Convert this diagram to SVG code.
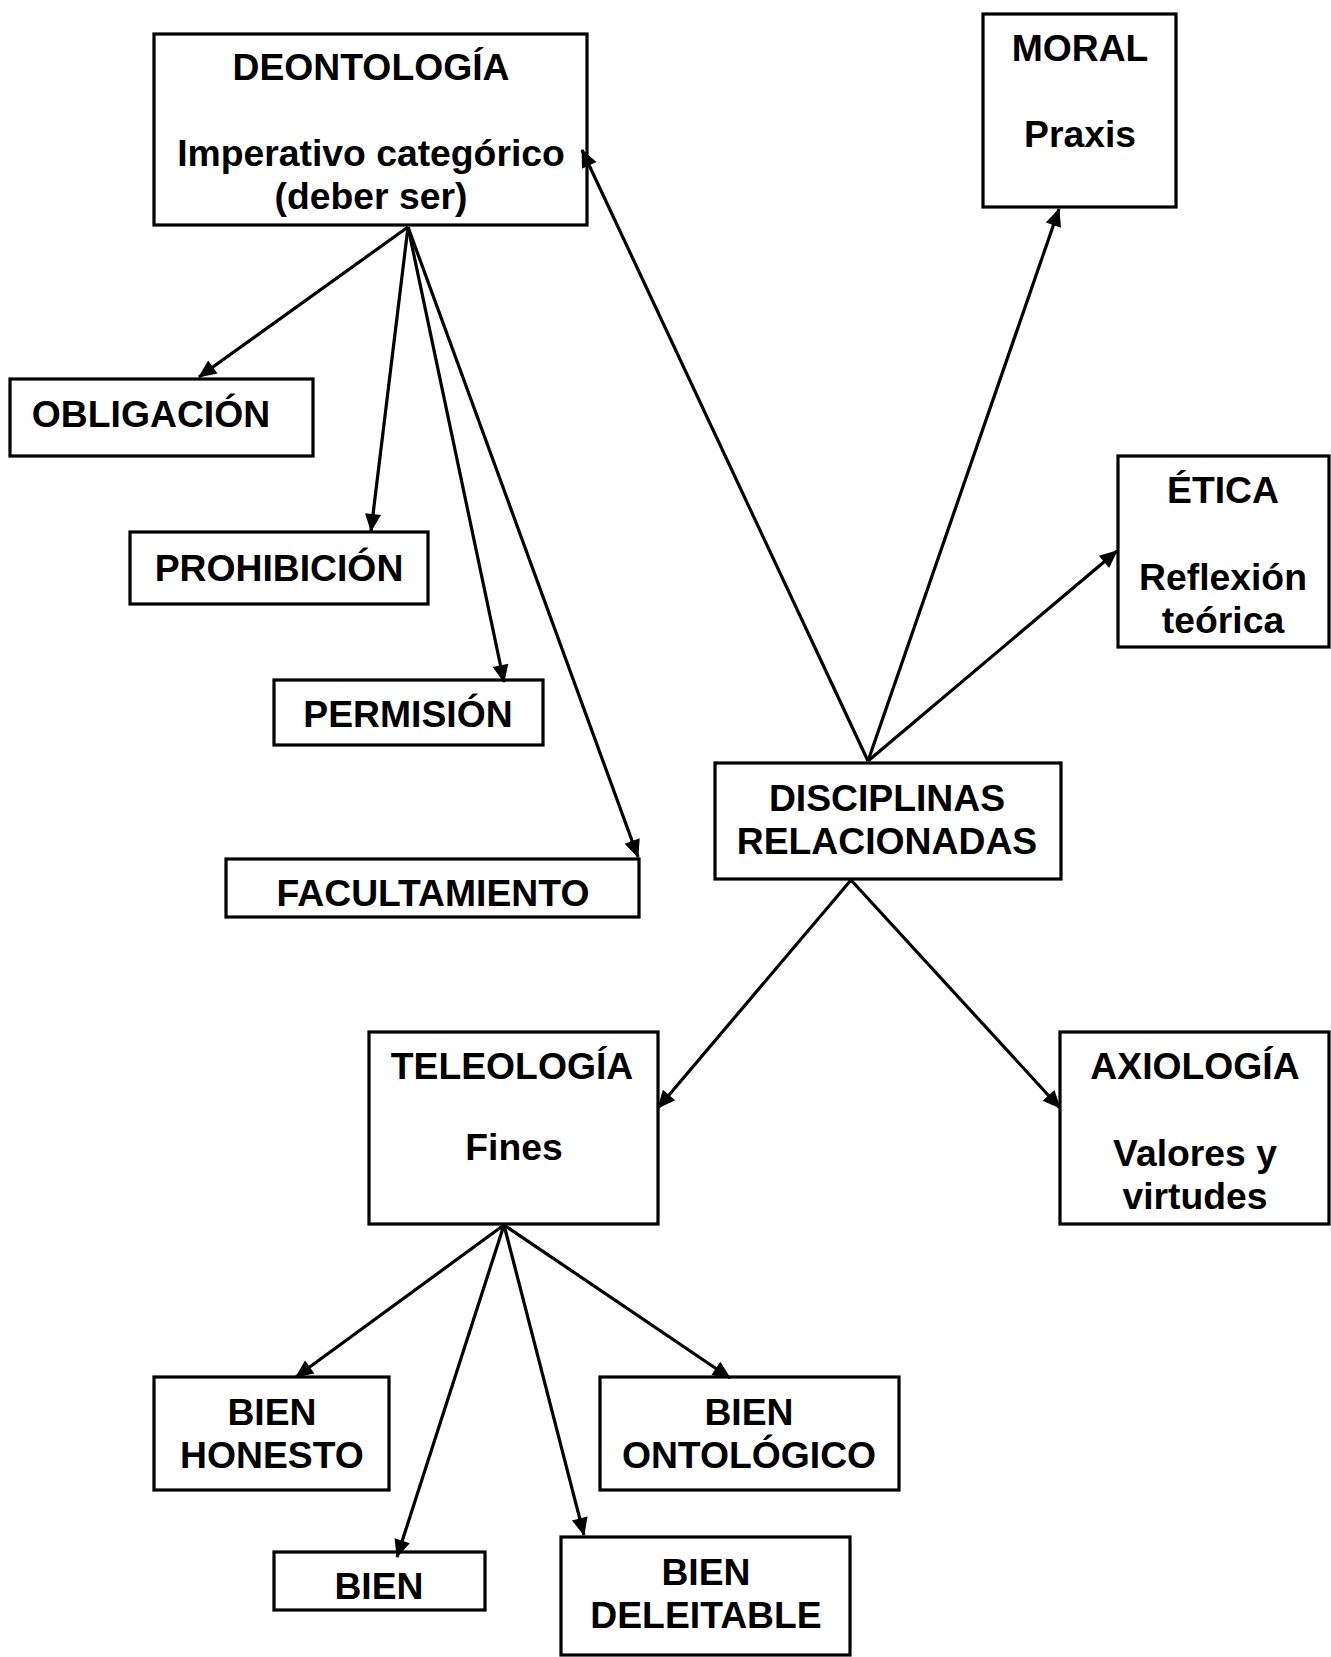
<svg xmlns="http://www.w3.org/2000/svg" width="1331" height="1657" viewBox="0 0 1331 1657">
<style>
rect.box{fill:#fff;stroke:#000;stroke-width:3.2}
text{font-family:"Liberation Sans",Arial,sans-serif;font-weight:bold;font-size:37.3px;fill:#000;text-anchor:middle}
.conn line{stroke:#000;stroke-width:3.2;marker-end:url(#ah)}
</style>
<defs>
<marker id="ah" markerUnits="userSpaceOnUse" markerWidth="20" markerHeight="18" refX="17" refY="8" orient="auto" overflow="visible">
<path d="M0,0 L18,8 L0,16 Z" fill="#000"/>
</marker>
</defs>
<rect width="1331" height="1657" fill="#fff"/>
<g id="n-deontologia"><rect class="box" x="154" y="34" width="433" height="191"/>
<text x="371" y="80">DEONTOLOGÍA</text><text x="371" y="166">Imperativo categórico</text><text x="371" y="209">(deber ser)</text></g>
<g id="n-moral"><rect class="box" x="983" y="14" width="193" height="193"/>
<text x="1080" y="61">MORAL</text><text x="1080" y="147">Praxis</text></g>
<g id="n-obligacion"><rect class="box" x="10" y="379" width="303" height="77"/>
<text x="151" y="427">OBLIGACIÓN</text></g>
<g id="n-prohibicion"><rect class="box" x="130" y="532" width="298" height="72"/>
<text x="279" y="581">PROHIBICIÓN</text></g>
<g id="n-permision"><rect class="box" x="274" y="680" width="269" height="65"/>
<text x="408" y="727">PERMISIÓN</text></g>
<g id="n-facultamiento"><rect class="box" x="226" y="859" width="413" height="58"/>
<text x="433" y="906">FACULTAMIENTO</text></g>
<g id="n-etica"><rect class="box" x="1118" y="456" width="211" height="191"/>
<text x="1223" y="503">ÉTICA</text><text x="1223" y="590">Reflexión</text><text x="1223" y="633">teórica</text></g>
<g id="n-disciplinas"><rect class="box" x="715" y="763" width="346" height="116"/>
<text x="887" y="811">DISCIPLINAS</text><text x="887" y="854">RELACIONADAS</text></g>
<g id="n-teleologia"><rect class="box" x="369" y="1032" width="289" height="192"/>
<text x="512" y="1079">TELEOLOGÍA</text><text x="514" y="1160">Fines</text></g>
<g id="n-axiologia"><rect class="box" x="1060" y="1032" width="269" height="192"/>
<text x="1195" y="1079">AXIOLOGÍA</text><text x="1195" y="1166">Valores y</text><text x="1195" y="1209">virtudes</text></g>
<g id="n-honesto"><rect class="box" x="154" y="1377" width="235" height="113"/>
<text x="272" y="1425">BIEN</text><text x="272" y="1468">HONESTO</text></g>
<g id="n-ontologico"><rect class="box" x="600" y="1377" width="299" height="113"/>
<text x="749" y="1425">BIEN</text><text x="749" y="1468">ONTOLÓGICO</text></g>
<g id="n-bien"><rect class="box" x="274" y="1552" width="211" height="58"/>
<text x="379" y="1599">BIEN</text></g>
<g id="n-deleitable"><rect class="box" x="561" y="1537" width="289" height="118"/>
<text x="706" y="1585">BIEN</text><text x="706" y="1628">DELEITABLE</text></g>
<g id="connectors" class="conn">
<line x1="408" y1="227" x2="199" y2="377"/>
<line x1="408" y1="227" x2="371" y2="531"/>
<line x1="408" y1="227" x2="504" y2="682"/>
<line x1="408" y1="227" x2="638" y2="857"/>
<line x1="868" y1="761" x2="582" y2="150"/>
<line x1="868" y1="761" x2="1059" y2="209"/>
<line x1="868" y1="761" x2="1117" y2="551"/>
<line x1="851" y1="880" x2="658" y2="1108"/>
<line x1="851" y1="880" x2="1060" y2="1108"/>
<line x1="504" y1="1225" x2="296" y2="1377"/>
<line x1="504" y1="1225" x2="397" y2="1557"/>
<line x1="504" y1="1225" x2="584" y2="1535"/>
<line x1="504" y1="1225" x2="730" y2="1378"/>
</g>
</svg>
